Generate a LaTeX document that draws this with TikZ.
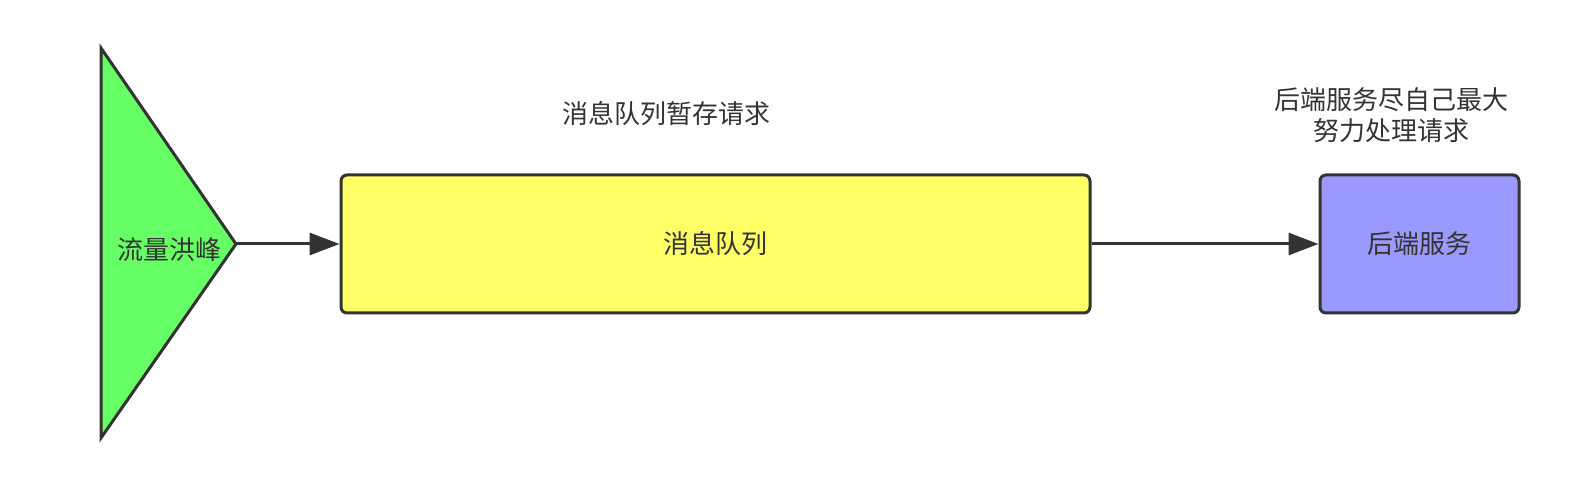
\documentclass[tikz,border=0pt]{standalone}
\usepackage{fontspec}
\setmainfont{Noto Sans CJK SC}
\usetikzlibrary{arrows.meta}
\definecolor{ink}{HTML}{333333}
\definecolor{floodgreen}{HTML}{66FF66}
\definecolor{queueyellow}{HTML}{FFFF66}
\definecolor{serviceblue}{HTML}{9999FF}
\begin{document}
\begin{tikzpicture}[x=1pt,y=1pt]
\tikzstyle{every node}+=[inner sep=0pt, text=ink, font=\fontsize{26}{31}\selectfont]
\tikzstyle{box}=[draw=ink, line width=3, rounded corners=6, minimum height=138]
\tikzstyle{link}=[draw=ink, line width=3, -{Triangle[length=30,width=22]}]
\useasboundingbox (0,0) rectangle (1582,-494);
\draw [ink, line width=3, fill=floodgreen, line join=miter] (101,-48) -- (236,-244) -- (101,-438) -- cycle;
\coordinate (peak) at (236,-244);
\node (flood) at (169,-250) {流量洪峰};
\node [box, fill=queueyellow, minimum width=749] (queue) at (715.5,-244) {消息队列};
\node [box, fill=serviceblue, minimum width=199] (service) at (1419.5,-244) {后端服务};
\node (queuenote) at (666,-114) {消息队列暂存请求};
\node [align=center] (servicenote) at (1391,-115) {后端服务尽自己最大\\努力处理请求};
\draw [link] (peak) -- (queue.west);
\draw [link] (queue.east) -- (service.west);
\end{tikzpicture}
\end{document}
